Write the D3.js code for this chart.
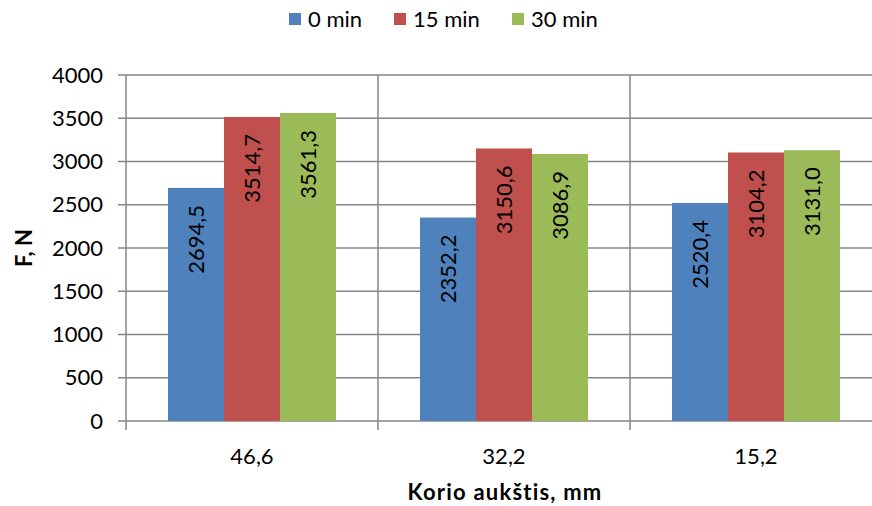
<!DOCTYPE html>
<html><head><meta charset="utf-8">
<script src="https://cdn.jsdelivr.net/npm/d3@7"></script>
<style>
body{margin:0;background:#fff;}
text{font-family:Lato,"Open Sans",sans-serif;fill:#000;}
</style></head>
<body><svg id="c" width="872" height="506"></svg>
<script>
const categories = ["46,6", "32,2", "15,2"];
const seriesNames = ["0 min", "15 min", "30 min"];
const values0 = [2694.5, 2352.2, 2520.4];
const values15 = [3514.7, 3150.6, 3104.2];
const values30 = [3561.3, 3086.9, 3131.0];
const yTicks = [0, 500, 1000, 1500, 2000, 2500, 3000, 3500, 4000];
const colors = ["#4F81BD", "#C0504D", "#9BBB59"];
const seriesValues = [values0, values15, values30];

const svg = d3.select("#c");
const pL = 126, pR = 882, pT = 75, pB = 421;
const FS = 22;
const x = d3.scaleBand().domain(categories).range([pL, pR]).paddingInner(0).paddingOuter(0);
const inner = d3.scaleBand().domain(seriesNames).range([0, x.bandwidth()]).paddingInner(0).paddingOuter(0.75);
const y = d3.scaleLinear().domain([0, 4000]).range([pB, pT]);
const loc = d3.formatLocale({decimal: ",", thousands: "", grouping: [3], currency: ["", ""]});
const fmt = loc.format(".1f");
const grid = "#868686";

// horizontal gridlines
svg.append("g").selectAll("line").data(yTicks).join("line")
  .attr("x1", pL - 8).attr("x2", 872)
  .attr("y1", d => y(d)).attr("y2", d => y(d))
  .attr("stroke", grid).attr("stroke-width", 1.5);
// vertical category lines
const seps = categories.map(c => x(c)).concat([x(categories[2]) + x.bandwidth()]);
svg.append("g").selectAll("line").data(seps).join("line")
  .attr("x1", d => d).attr("x2", d => d)
  .attr("y1", pT).attr("y2", pB + 9)
  .attr("stroke", grid).attr("stroke-width", 1.5);

// y tick labels
svg.append("g").selectAll("text").data(yTicks).join("text")
  .attr("x", 103).attr("y", d => y(d)).attr("dy", "0.35em")
  .attr("text-anchor", "end").attr("font-size", FS).text(d => d);

// bars
seriesValues.forEach((vals, si) => {
  const g = svg.append("g");
  g.selectAll("rect").data(vals).join("rect")
    .attr("x", (d, i) => x(categories[i]) + inner(seriesNames[si]))
    .attr("y", d => y(d)).attr("width", inner.bandwidth())
    .attr("height", d => pB - y(d)).attr("fill", colors[si]);
  g.selectAll("text").data(vals).join("text")
    .attr("transform", (d, i) => {
      const cx = x(categories[i]) + inner(seriesNames[si]) + inner.bandwidth() / 2;
      return `translate(${cx},${y(d) + 17}) rotate(-90)`;
    })
    .attr("text-anchor", "end").attr("dy", "0.35em").attr("font-size", FS)
    .text(d => fmt(d));
});

// x labels
svg.append("g").selectAll("text").data(categories).join("text")
  .attr("x", d => x(d) + x.bandwidth() / 2).attr("y", 456).attr("dy", "0.35em")
  .attr("text-anchor", "middle").attr("font-size", FS).text(d => d);

// axis titles
svg.append("text").attr("x", 505).attr("y", 492).attr("dy", "0.35em").attr("text-anchor", "middle")
  .attr("font-size", FS).attr("font-weight", "bold").attr("letter-spacing", 1.2).text("Korio aukštis, mm");
svg.append("text").attr("transform", `translate(24,${(pT + pB) / 2}) rotate(-90)`)
  .attr("text-anchor", "middle").attr("dy", "0.35em").attr("font-size", FS).attr("font-weight", "bold").text("F, N");

// legend
const legX = [289, 394, 512];
const lg = svg.append("g");
seriesNames.forEach((n, i) => {
  lg.append("rect").attr("x", legX[i]).attr("y", 13).attr("width", 12).attr("height", 12).attr("fill", colors[i]);
  lg.append("text").attr("x", legX[i] + 19).attr("y", 19).attr("dy", "0.35em").attr("font-size", FS).text(n);
});
</script></body></html>
